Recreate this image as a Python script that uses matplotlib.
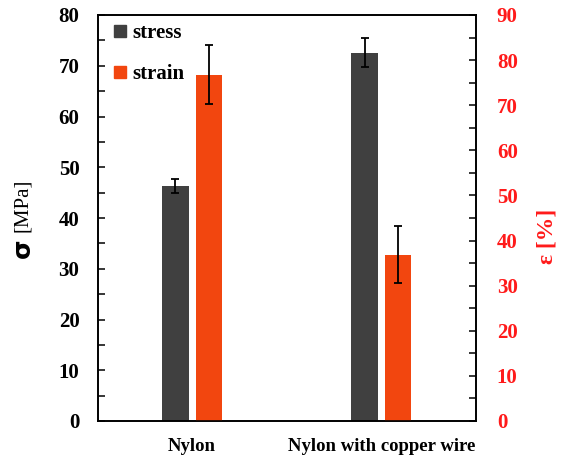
import matplotlib
matplotlib.use("Agg")
import matplotlib.pyplot as plt
from matplotlib.lines import Line2D
import numpy as np

categories = ["Nylon", "Nylon with copper wire"]
stress = [46.3, 72.6]
stress_err = [1.3, 2.9]
strain = [76.8, 36.9]
strain_err = [6.6, 6.4]

DARK = "#404040"
ORANGE = "#F2460F"
RED = "#FF1A1A"
SERIF = ["Liberation Serif", "DejaVu Serif"]

plt.rcParams["font.family"] = SERIF

fig = plt.figure(figsize=(5.63, 4.55), dpi=100)
ax = fig.add_axes([97.5 / 563, 1 - 421 / 455, (476 - 97.5) / 563, (421 - 15) / 455])
ax2 = ax.twinx()

x = np.arange(len(categories))
w = 0.14
off = 0.088
ax.bar(x - off, stress, w, color=DARK, zorder=2)
ax.errorbar(x - off, stress, yerr=stress_err, fmt="none", ecolor="black",
            elinewidth=1.3, capsize=3, capthick=1.3, zorder=3)
ax2.bar(x + off, strain, w, color=ORANGE, zorder=2)
ax2.errorbar(x + off, strain, yerr=strain_err, fmt="none", ecolor="black",
             elinewidth=1.3, capsize=3, capthick=1.3, zorder=3)

ax.set_xlim(-0.5, 1.5)
ax.set_ylim(0, 80)
ax2.set_ylim(0, 90)
ax.set_yticks(np.arange(0, 81, 10))
ax.set_yticks(np.arange(5, 80, 10), minor=True)
ax2.set_yticks(np.arange(0, 91, 10))
ax2.set_yticks(np.arange(5, 90, 10), minor=True)

ax.set_xticks(x)
ax.set_xticklabels(categories, fontsize=13.5, fontweight="bold")
ax.tick_params(axis="x", length=0, pad=12)

ax.tick_params(axis="y", which="major", direction="in", length=5, width=1.1,
               labelsize=15, pad=13)
ax.tick_params(axis="y", which="minor", direction="in", length=5, width=1.1)
ax2.tick_params(axis="y", which="major", direction="in", length=5, width=1.1,
                labelsize=15, pad=15, labelcolor=RED)
ax2.tick_params(axis="y", which="minor", direction="in", length=5, width=1.1)
for lab in ax.get_yticklabels() + ax2.get_yticklabels():
    lab.set_fontweight("bold")

for a in (ax, ax2):
    for s in a.spines.values():
        s.set_linewidth(1.2)

# y labels
fig.text(23 / 563, 1 - 248 / 455, "σ", rotation=90, ha="center", va="center",
         fontsize=18, fontweight="bold", family=["DejaVu Sans"])
fig.text(23 / 563, 1 - 205 / 455, "[MPa]", rotation=90, ha="center", va="center",
         fontsize=15, family=SERIF)
fig.text(547 / 563, 1 - 236 / 455, "ε [%]", rotation=90, ha="center", va="center",
         fontsize=17, fontweight="bold", color=RED, family=SERIF)

handles = [Line2D([], [], marker="s", linestyle="none", markersize=8,
                  color=DARK),
           Line2D([], [], marker="s", linestyle="none", markersize=8,
                  color=ORANGE)]
leg = ax.legend(handles, ["stress", "strain"], loc="upper left", frameon=False,
                prop={"family": SERIF, "weight": "bold", "size": 15},
                handlelength=0.6, handletextpad=0.3, labelspacing=1.0,
                borderaxespad=0.0, bbox_to_anchor=(0.02, 1.0))

fig.savefig("out.png", dpi=100)
